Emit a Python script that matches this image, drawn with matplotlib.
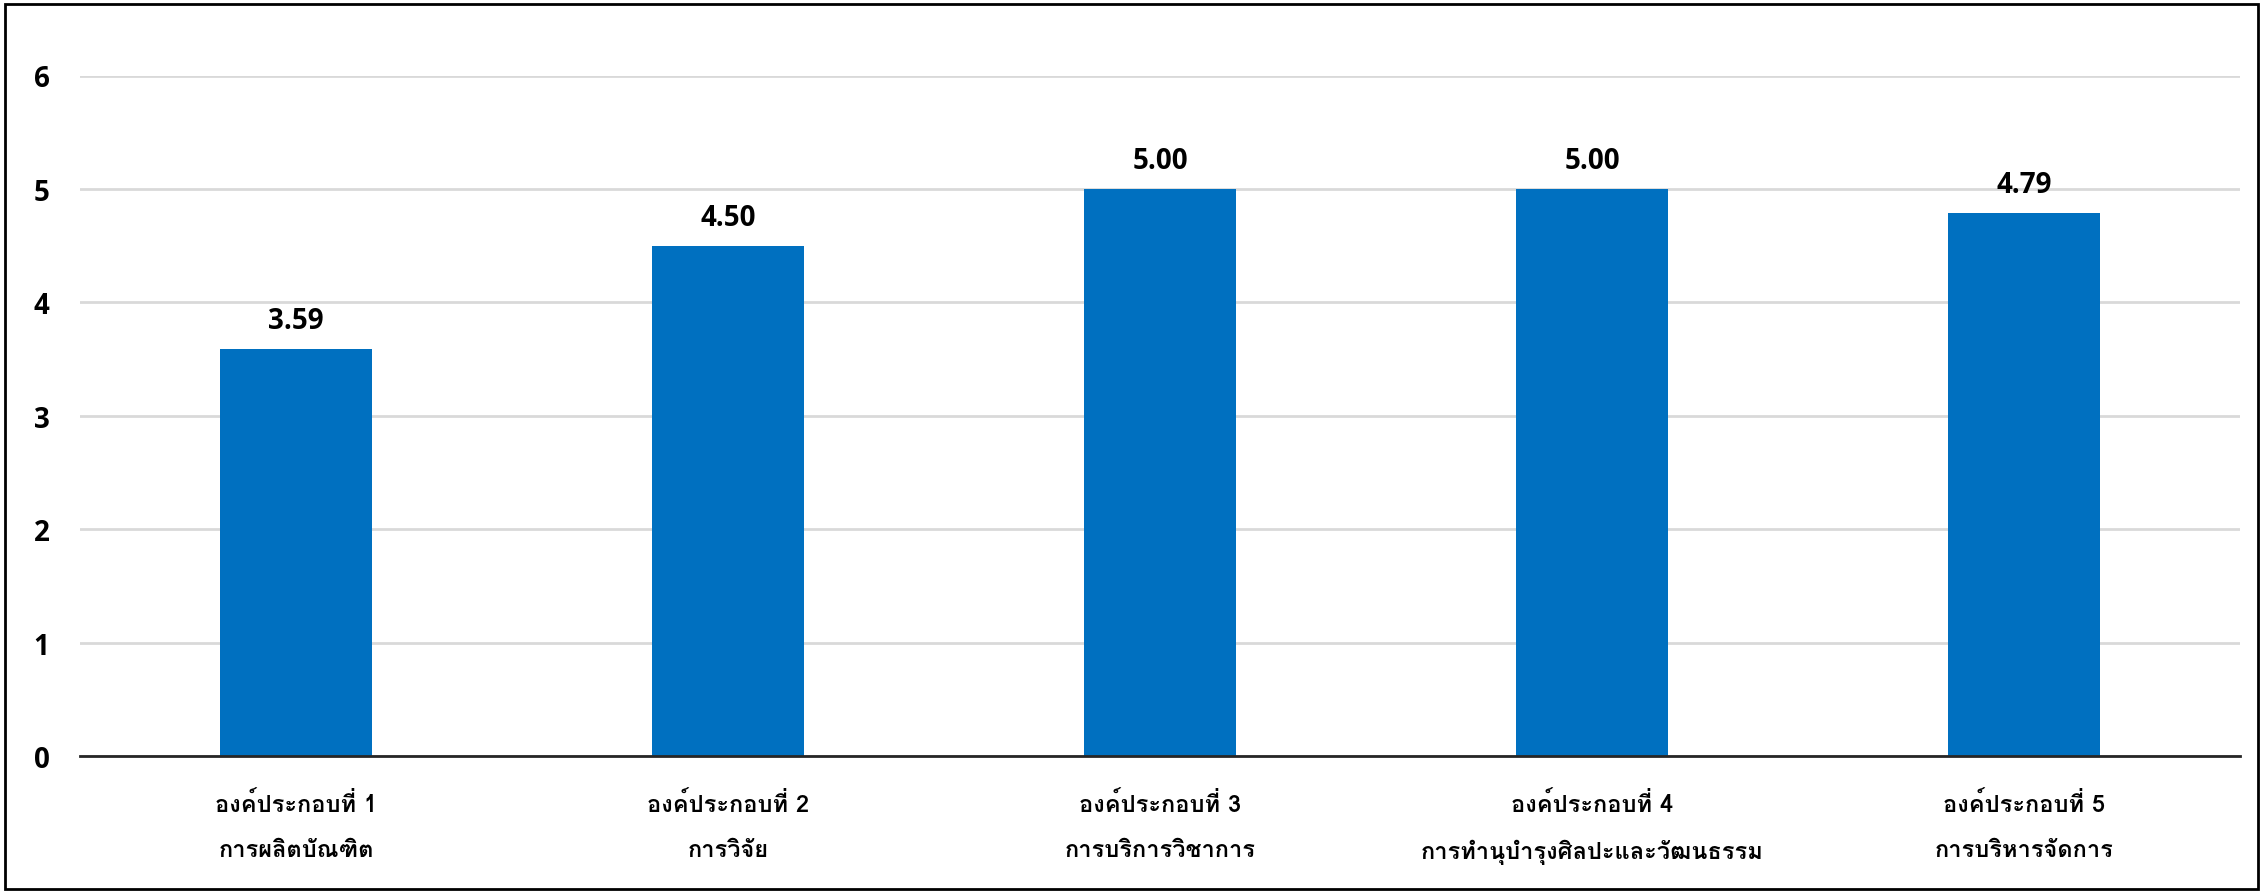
import matplotlib
matplotlib.use("Agg")
import matplotlib.pyplot as plt
from matplotlib import font_manager as fm
from matplotlib.ft2font import FT2Font
from matplotlib.patches import Rectangle

categories = [
    "องค์ประกอบที่ 1\nการผลิตบัณฑิต",
    "องค์ประกอบที่ 2\nการวิจัย",
    "องค์ประกอบที่ 3\nการบริการวิชาการ",
    "องค์ประกอบที่ 4\nการทำนุบำรุงศิลปะและวัฒนธรรม",
    "องค์ประกอบที่ 5\nการบริหารจัดการ",
]
values = [3.59, 4.50, 5.00, 5.00, 4.79]
value_labels = ["3.59", "4.50", "5.00", "5.00", "4.79"]
yticks = [0, 1, 2, 3, 4, 5, 6]


def thai_fonts():
    out = []
    for f in fm.fontManager.ttflist:
        if f.style != "normal":
            continue
        try:
            cmap = FT2Font(f.fname).get_charmap()
        except Exception:
            continue
        if 0x0E2D in cmap and 0x0E04 in cmap and 0x0E4C in cmap:
            out.append(f)
    return out


def pick_thai_font():
    fonts = thai_fonts()
    best, best_score = None, None
    for f in fonts:
        w = f.weight if isinstance(f.weight, int) else 400
        score = abs(w - 400)
        if "condensed" in str(f.stretch) or "Condensed" in f.name:
            score += 300
        if "UI" in f.name or "Looped" in f.name:
            score += 50
        if best is None or score < best_score:
            best, best_score = f, score
    if best is None:
        return None
    bold, bscore = None, None
    for f in fonts:
        if f.name != best.name:
            continue
        w = f.weight if isinstance(f.weight, int) else 400
        if w >= 600:
            s = abs(w - 700)
            if bold is None or s < bscore:
                bold, bscore = f, s
    return (bold or best).fname


thai_path = pick_thai_font()
if thai_path:
    thai_fp = fm.FontProperties(fname=thai_path, size=17)
else:
    thai_fp = fm.FontProperties(family="DejaVu Sans", weight="bold", size=17)

num_fp = fm.FontProperties(family=["Open Sans", "Lato", "DejaVu Sans"],
                           weight="bold", size=20)

fig = plt.figure(figsize=(22.65, 8.95), dpi=100)
ax = fig.add_axes([80 / 2265, 1 - 757 / 895, 2160 / 2265, (757 - 76.5) / 895])

x = list(range(len(values)))
ax.bar(x, values, width=0.354, color="#0070C0", zorder=3)
ax.set_xlim(-0.5, len(values) - 0.5)
ax.set_ylim(0, 6)
ax.set_yticks(yticks)
ax.set_yticklabels([str(t) for t in yticks], fontproperties=num_fp)
ax.set_xticks(x)
ax.set_xticklabels(categories, fontproperties=thai_fp, linespacing=2.22)
ax.tick_params(axis="both", length=0)
ax.tick_params(axis="y", pad=22)
ax.tick_params(axis="x", pad=25)
ax.grid(axis="y", color="#D9D9D9", linewidth=2, zorder=0)
for s in ["top", "right", "left"]:
    ax.spines[s].set_visible(False)
ax.spines["bottom"].set_color("#262626")
ax.spines["bottom"].set_linewidth(2)
ax.spines["bottom"].set_zorder(4)

for xi, v, lab in zip(x, values, value_labels):
    ax.annotate(lab, (xi, v), xytext=(0, 14), textcoords="offset pixels",
                ha="center", va="bottom", fontproperties=num_fp, color="black")

fig.patches.append(Rectangle((5 / 2265, 5 / 895), 2253 / 2265, 885 / 895,
                             transform=fig.transFigure, fill=False,
                             edgecolor="black", linewidth=2))

fig.savefig("out.png", dpi=100)
